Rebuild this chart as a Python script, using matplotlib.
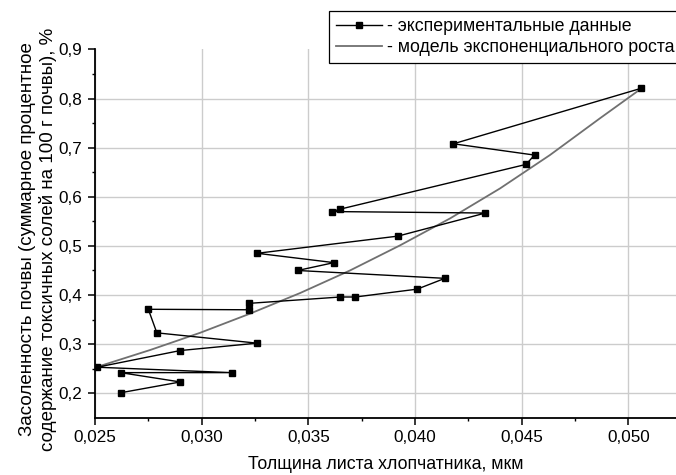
import matplotlib
matplotlib.use("Agg")
import matplotlib.pyplot as plt

plt.rcParams['font.family'] = ['Liberation Sans', 'DejaVu Sans']

# experimental points (leaf thickness, soil salinity), in the order they are joined
thickness = [0.0262, 0.0290, 0.0262, 0.0314, 0.0251, 0.0290, 0.0326, 0.0279,
             0.0275, 0.0322, 0.0322, 0.0365, 0.0372, 0.0401, 0.0414, 0.0345,
             0.0362, 0.0326, 0.0392, 0.0433, 0.0361, 0.0365, 0.0452, 0.0456,
             0.0418, 0.0506]
salinity = [0.201, 0.223, 0.242, 0.242, 0.253, 0.287, 0.302, 0.323,
            0.371, 0.370, 0.383, 0.396, 0.396, 0.412, 0.434, 0.450,
            0.466, 0.485, 0.520, 0.567, 0.570, 0.575, 0.666, 0.685,
            0.708, 0.821]

# exponential growth model curve
model_x = [0.02505, 0.02758, 0.02992, 0.03226, 0.03461, 0.03695,
           0.03929, 0.04164, 0.04398, 0.04632, 0.04867, 0.05062]
model_y = [0.253, 0.288, 0.323, 0.362, 0.404, 0.450,
           0.501, 0.556, 0.617, 0.685, 0.760, 0.821]

x_ticks = [0.025, 0.030, 0.035, 0.040, 0.045, 0.050]
x_labels = ['0,025', '0,030', '0,035', '0,040', '0,045', '0,050']
y_ticks = [0.2, 0.3, 0.4, 0.5, 0.6, 0.7, 0.8, 0.9]
y_labels = ['0,2', '0,3', '0,4', '0,5', '0,6', '0,7', '0,8', '0,9']

fig = plt.figure(figsize=(6.76, 4.75), dpi=100)
ax = fig.add_axes([0.1405, 0.1204, 0.8595, 0.7754])

ax.plot(thickness, salinity, color='black', lw=1.0, marker='s', ms=5,
        mfc='black', mec='black', label='- экспериментальные данные', zorder=3)
ax.plot(model_x, model_y, color='#707070', lw=1.3,
        label='- модель экспоненциального роста', zorder=2)

ax.set_xlim(0.025, 0.05223)
ax.set_ylim(0.15, 0.9)
ax.set_xticks(x_ticks)
ax.set_xticklabels(x_labels)
ax.set_yticks(y_ticks)
ax.set_yticklabels(y_labels)
ax.set_xticks([0.0275, 0.0325, 0.0375, 0.0425, 0.0475], minor=True)
ax.set_yticks([0.25, 0.35, 0.45, 0.55, 0.65, 0.75, 0.85], minor=True)

ax.grid(True, which='major', color='#cccccc', lw=1.0)
ax.get_ygridlines()[-1].set_visible(False)
ax.set_axisbelow(True)

for s in ['top', 'right']:
    ax.spines[s].set_visible(False)
for s in ['left', 'bottom']:
    ax.spines[s].set_linewidth(1.3)
ax.tick_params(which='major', direction='out', length=5, width=1.1,
               labelsize=12.3, colors='black', pad=4)
ax.tick_params(which='minor', direction='out', length=2.5, width=1.0)

ax.set_xlabel('Толщина листа хлопчатника, мкм', fontsize=12.8, labelpad=8)
ax.set_ylabel('Засоленность почвы (суммарное процентное\n'
              'содержание токсичных солей на 100 г почвы), %',
              fontsize=13.5, labelpad=1, linespacing=1.25)
ax.yaxis.label.set_y(0.485)

leg = ax.legend(loc='upper left', bbox_to_anchor=(329 / 676, 1 - 11 / 475),
                bbox_transform=fig.transFigure, fontsize=12.8, numpoints=1,
                handlelength=2.6, handletextpad=0.25, borderpad=0.4,
                borderaxespad=0, labelspacing=0.22, fancybox=False,
                framealpha=1, edgecolor='black')
leg.get_frame().set_linewidth(0.9)

fig.savefig('out.png', dpi=100)
